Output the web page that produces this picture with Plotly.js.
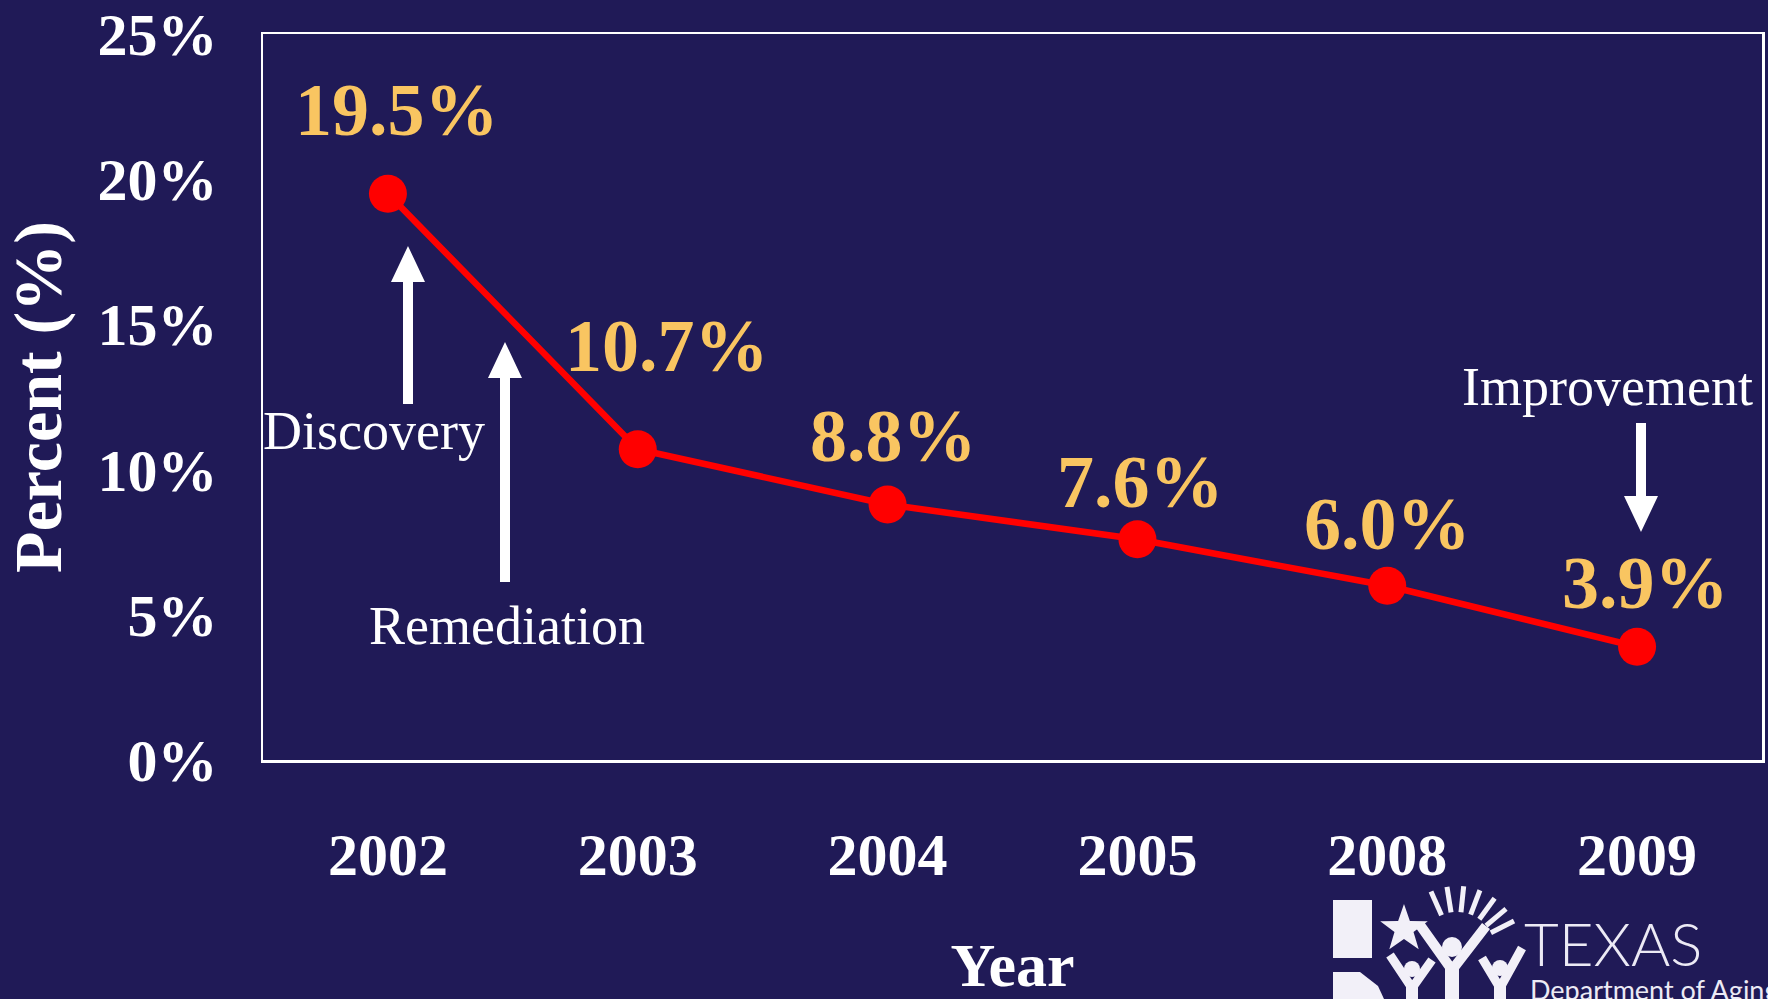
<!DOCTYPE html>
<html><head><meta charset="utf-8">
<script src="https://cdn.plot.ly/plotly-3.0.1.min.js"></script>
<style>html,body{margin:0;padding:0;background:#201A57;overflow:hidden}</style>
</head><body><div id="chart" style="width:1768px;height:999px"></div>
<script>
// ---- data ----
const years = ['2002', '2003', '2004', '2005', '2008', '2009'];
const percentValues = [19.5, 10.7, 8.8, 7.6, 6.0, 3.9];
const valueLabels = ['19.5%', '10.7%', '8.8%', '7.6%', '6.0%', '3.9%'];
const yTickValues = [0, 5, 10, 15, 20, 25];
const yTickLabels = ['0%', '5%', '10%', '15%', '20%', '25%'];
const noteTexts = ['Discovery', 'Remediation', 'Improvement'];
const logoTexts = ['TEXAS', 'Department of Aging'];

// ---- layout helpers (pixel -> paper) ----
const W = 1768, H = 999, L = 263, R = 1762, T = 34, B = 760;
const px = x => (x - L) / (R - L);
const py = y => (B - y) / (B - T);
const SERIF = 'Liberation Serif, Times New Roman, serif';
const BG = '#201A57';
const LOGO = '#F2F0F8';
const labelOffsets = [[9, 84], [29, 103], [6, 68], [3, 57], [0, 62], [8, 64]];

function arrowPath(xc, tip, tail, sw, hw, hl) {
  const dir = Math.sign(tail - tip);
  const base = tip + dir * hl;
  const pts = [[xc - sw / 2, tail], [xc - sw / 2, base], [xc - hw / 2, base], [xc, tip],
               [xc + hw / 2, base], [xc + sw / 2, base], [xc + sw / 2, tail]];
  return polyPath(pts);
}
function polyPath(pts) {
  return 'M' + pts.map(p => px(p[0]).toFixed(5) + ',' + py(p[1]).toFixed(5)).join(' L') + ' Z';
}
function linePath(pts) {
  return 'M' + pts.map(p => px(p[0]).toFixed(5) + ',' + py(p[1]).toFixed(5)).join(' L');
}
function starPts(cx, cy, ro, ri) {
  const pts = [];
  for (let i = 0; i < 10; i++) {
    const a = -Math.PI / 2 + i * Math.PI / 5;
    const r = i % 2 ? ri : ro;
    pts.push([cx + r * Math.cos(a), cy + r * Math.sin(a)]);
  }
  return pts;
}
function circle(cx, cy, r) {
  return {type: 'circle', xref: 'paper', yref: 'paper', x0: px(cx - r), x1: px(cx + r),
          y0: py(cy + r), y1: py(cy - r), fillcolor: LOGO, line: {width: 0}};
}
function fillShape(path) {
  return {type: 'path', xref: 'paper', yref: 'paper', path: path, fillcolor: LOGO, line: {width: 0}};
}
function strokeShape(path, w) {
  return {type: 'path', xref: 'paper', yref: 'paper', path: path, line: {color: LOGO, width: w}};
}

const shapes = [
  // arrows
  {type: 'path', xref: 'paper', yref: 'paper', path: arrowPath(408, 246, 404, 10, 34, 36), fillcolor: '#FFFFFF', line: {width: 0}},
  {type: 'path', xref: 'paper', yref: 'paper', path: arrowPath(505, 342, 582, 10, 34, 36), fillcolor: '#FFFFFF', line: {width: 0}},
  {type: 'path', xref: 'paper', yref: 'paper', path: arrowPath(1641, 532, 423, 10, 34, 36), fillcolor: '#FFFFFF', line: {width: 0}},
  // logo: Texas shape + star
  fillShape(polyPath([[1333, 900], [1372, 900], [1372, 958], [1333, 958]])),
  fillShape(polyPath([[1333, 972], [1360, 972], [1378, 986], [1384, 999], [1333, 999]])),
  fillShape(polyPath(starPts(1404, 929, 25, 10))),
  // people
  circle(1452, 947, 10), circle(1412, 969, 8), circle(1500, 968, 8),
  strokeShape(linePath([[1420, 925], [1452, 970], [1486, 926]]), 10),
  strokeShape(linePath([[1452, 965], [1452, 999]]), 14),
  strokeShape(linePath([[1390, 955], [1412, 988], [1432, 960]]), 9),
  strokeShape(linePath([[1412, 984], [1412, 999]]), 12),
  strokeShape(linePath([[1482, 958], [1500, 988], [1522, 948]]), 9),
  strokeShape(linePath([[1500, 984], [1500, 999]]), 12)
];
// sun rays
[114, 99, 84, 69, 54, 40, 27].forEach(a => {
  const r = a * Math.PI / 180, cx = 1457, cy = 950;
  shapes.push(strokeShape(linePath([[cx + 38 * Math.cos(r), cy - 38 * Math.sin(r)],
                                    [cx + 64 * Math.cos(r), cy - 64 * Math.sin(r)]]), 5));
});

const annotations = years.map((yr, i) => ({
  x: i, y: percentValues[i], xref: 'x', yref: 'y', text: valueLabels[i], showarrow: false,
  xshift: labelOffsets[i][0], yshift: labelOffsets[i][1],
  font: {family: SERIF, size: 74, color: '#F9C561', weight: 'bold'}
}));
const notePos = [[374, 431], [507, 626], [1607, 387]];
noteTexts.forEach((t, i) => annotations.push({
  xref: 'paper', yref: 'paper', x: px(notePos[i][0]), y: py(notePos[i][1]), text: t, showarrow: false,
  xanchor: 'center', yanchor: 'middle', font: {family: SERIF, size: 54, color: '#FFFFFF'}
}));
annotations.push({xref: 'paper', yref: 'paper', x: px(1522), y: py(943), text: logoTexts[0], showarrow: false,
  xanchor: 'left', yanchor: 'middle', font: {family: 'Lato, sans-serif', size: 60, color: '#ECEAF5', weight: 300}});
annotations.push({xref: 'paper', yref: 'paper', x: px(1528), y: py(989), text: logoTexts[1], showarrow: false,
  xanchor: 'left', yanchor: 'middle', font: {family: 'Lato, sans-serif', size: 27, color: '#ECEAF5'}});

const trace = {
  type: 'scatter', mode: 'lines+markers', x: years, y: percentValues,
  line: {color: '#FF0000', width: 6.5}, marker: {color: '#FF0000', size: 38},
  cliponaxis: false, hoverinfo: 'skip'
};

const layout = {
  width: W, height: H, paper_bgcolor: BG, plot_bgcolor: BG,
  margin: {l: L, r: W - R, t: T, b: H - B, pad: 0},
  showlegend: false,
  font: {family: SERIF, color: '#FFFFFF'},
  xaxis: {
    type: 'category', range: [-0.5, 5.5], showgrid: false, zeroline: false,
    showline: true, mirror: true, linecolor: '#FFFFFF', linewidth: 2.5, ticks: '',
    tickfont: {family: SERIF, size: 60, color: '#FFFFFF', weight: 'bold'},
    ticklabelstandoff: 40, automargin: false, fixedrange: true,
    title: {text: 'Year', standoff: 90, font: {family: SERIF, size: 62, color: '#FFFFFF', weight: 'bold'}}
  },
  yaxis: {
    range: [0, 25], tickvals: yTickValues, ticktext: yTickLabels, showgrid: false, zeroline: false,
    showline: true, mirror: true, linecolor: '#FFFFFF', linewidth: 2.5, ticks: '',
    tickfont: {family: SERIF, size: 60, color: '#FFFFFF', weight: 'bold'},
    ticklabelstandoff: 31, automargin: false, fixedrange: true,
    title: {text: 'Percent (%)', standoff: 38, font: {family: SERIF, size: 68, color: '#FFFFFF', weight: 'bold'}}
  },
  shapes: shapes,
  annotations: annotations
};

Plotly.newPlot('chart', [trace], layout, {displayModeBar: false, staticPlot: true});
</script>
</body></html>
